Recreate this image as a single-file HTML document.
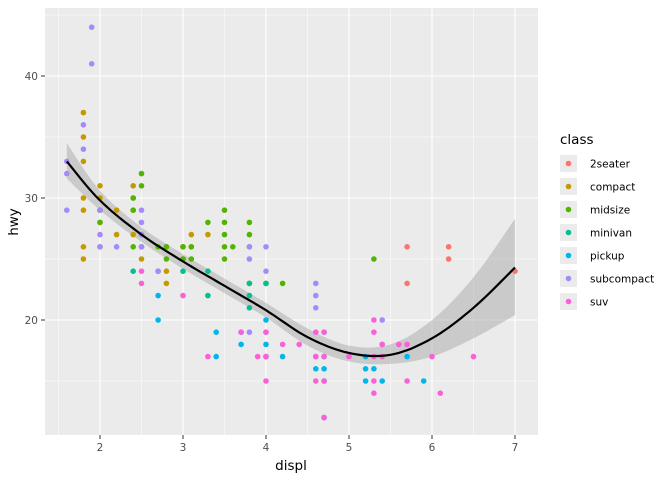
<!DOCTYPE html>
<html><head><meta charset="utf-8"><style>
body{margin:0;background:#fff;}
svg text{font-family:"DejaVu Sans","Liberation Sans",sans-serif;}
</style></head><body>
<svg id="s" width="672" height="480" xmlns="http://www.w3.org/2000/svg">
<rect x="0" y="0" width="672" height="480" fill="#fff"/>
<rect x="45" y="8" width="493" height="427" fill="#EBEBEB"/>
<g id="grid"></g>
<g id="band"></g>
<g id="pts"></g>
<g id="ax" fill="#4D4D4D" font-size="10.5"></g>
<text x="291" y="470" font-size="13.5" text-anchor="middle" fill="#000">displ</text>
<text x="18" y="222" font-size="13.5" text-anchor="middle" fill="#000" transform="rotate(-90 18 222)">hwy</text>
<text x="560" y="144" font-size="13.5" fill="#000">class</text>
<g id="leg"></g>
</svg>
<script>
const X=d=>100+(d-2)*83, Y=h=>320-(h-20)*12.2;
const ns="http://www.w3.org/2000/svg";
function el(p,t,a,txt){const e=document.createElementNS(ns,t);for(const k in a)e.setAttribute(k,a[k]);if(txt)e.textContent=txt;document.getElementById(p).appendChild(e);return e;}
for(let d=1.5;d<=7;d+=1)el("grid","line",{x1:X(d),x2:X(d),y1:8,y2:435,stroke:"#fff","stroke-width":0.5});
for(let h=15;h<=45;h+=10)el("grid","line",{x1:45,x2:538,y1:Y(h),y2:Y(h),stroke:"#fff","stroke-width":0.5});
for(let d=2;d<=7;d++){el("grid","line",{x1:X(d),x2:X(d),y1:8,y2:435,stroke:"#fff","stroke-width":1.1});el("ax","line",{x1:X(d),x2:X(d),y1:435,y2:439,stroke:"#333"});el("ax","text",{x:X(d),y:451,"text-anchor":"middle"},String(d));}
for(let h=20;h<=40;h+=10){el("grid","line",{x1:45,x2:538,y1:Y(h),y2:Y(h),stroke:"#fff","stroke-width":1.1});el("ax","line",{x1:41,x2:45,y1:Y(h),y2:Y(h),stroke:"#333"});el("ax","text",{x:38,y:Y(h)+4,"text-anchor":"end"},String(h));}
const C={"2seater":"#F8766D",compact:"#C49A00",midsize:"#53B400",minivan:"#00C094",pickup:"#00B6EB",subcompact:"#A58AFF",suv:"#FB61D7"};
const D={
"2seater":[[5.7,26],[5.7,23],[6.2,26],[6.2,25],[7.0,24]],
compact:[[1.8,29],[2.0,31],[2.0,30],[2.8,26],[3.1,27],[1.8,26],[1.8,25],[2.0,28],[2.0,29],[2.4,27],[2.4,30],[2.5,25],[2.5,27],[2.2,27],[1.8,37],[1.8,35],[1.8,33],[2.4,31],[2.4,29],[3.0,26],[3.3,27],[2.0,26],[2.7,24],[2.8,23],[1.8,30],[2.2,29],[3.0,25],[3.1,26],[2.8,24]],
midsize:[[2.4,26],[2.4,29],[3.1,26],[3.5,28],[3.6,26],[2.5,32],[2.5,31],[3.3,28],[3.0,25],[3.5,29],[3.8,26],[3.8,27],[2.4,30],[5.3,25],[2.0,28],[2.0,29],[2.8,25],[3.1,25],[4.2,23],[3.8,28],[3.8,23],[4.0,23],[3.5,25],[2.5,26],[3.5,27],[2.7,26],[3.0,26],[2.8,26],[3.5,26]],
minivan:[[2.4,24],[3.0,24],[3.3,22],[3.3,24],[3.8,22],[3.8,21],[4.0,23],[3.8,23]],
pickup:[[2.7,20],[2.7,22],[3.4,19],[3.4,17],[3.7,18],[4.0,20],[4.0,18],[4.2,17],[4.6,17],[4.6,16],[4.7,16],[4.7,15],[4.7,19],[4.7,12],[5.2,16],[5.2,15],[5.2,17],[5.3,16],[5.4,15],[5.7,17],[5.9,15],[4.7,17],[4.0,17],[3.7,19]],
subcompact:[[1.6,33],[1.6,32],[1.6,29],[1.9,44],[1.9,41],[1.8,36],[1.8,34],[2.0,29],[2.0,27],[2.0,26],[2.2,26],[2.5,28],[2.5,29],[2.5,27],[2.5,26],[2.7,24],[3.8,26],[3.8,25],[4.0,26],[4.0,24],[4.6,23],[4.6,22],[4.6,21],[5.4,20],[3.8,19],[4.0,19],[4.6,19],[5.4,18]],
suv:[[2.5,24],[2.5,23],[3.0,22],[3.3,17],[3.7,19],[3.9,17],[4.0,19],[4.0,17],[4.0,15],[4.2,18],[4.4,18],[4.6,19],[4.6,17],[4.6,15],[4.7,19],[4.7,17],[4.7,15],[4.7,12],[5.0,17],[5.3,20],[5.3,19],[5.3,17],[5.3,15],[5.3,14],[5.4,18],[5.4,17],[5.6,18],[5.7,18],[5.7,15],[6.0,17],[6.1,14],[6.5,17]]};
for(const k in D)for(const p of D[k])el("pts","circle",{cx:X(p[0]),cy:Y(p[1]),r:2.8,fill:C[k]});
const m=[[1.6,33],[2,29.8],[2.5,27],[3,24.8],[3.5,22.8],[4,20.8],[4.5,18.6],[5,17.3],[5.5,17.15],[6,18.5],[6.5,21],[7,24.3]];
const up=[[1.6,34.5],[2,30.6],[2.5,27.6],[3,25.4],[3.5,23.4],[4,21.4],[4.5,19.3],[5,17.9],[5.5,18],[6,20],[6.5,23.5],[7,28.3]];
const lo=[[1.6,31.6],[2,29],[2.5,26.4],[3,24.2],[3.5,22.2],[4,20.2],[4.5,17.9],[5,16.6],[5.5,16.4],[6,17],[6.5,18.5],[7,20.4]];
function spline(a){const P=a.map(p=>[X(p[0]),Y(p[1])]);let out=[];for(let i=0;i<P.length-1;i++){const p0=P[Math.max(0,i-1)],p1=P[i],p2=P[i+1],p3=P[Math.min(P.length-1,i+2)];for(let t=0;t<1;t+=0.1){const t2=t*t,t3=t2*t;out.push([0,1].map(j=>0.5*((2*p1[j])+(-p0[j]+p2[j])*t+(2*p0[j]-5*p1[j]+4*p2[j]-p3[j])*t2+(-p0[j]+3*p1[j]-3*p2[j]+p3[j])*t3)));}}out.push(P[P.length-1]);return out;}
const pth=pts=>pts.map((p,i)=>(i?"L":"M")+p[0].toFixed(1)+","+p[1].toFixed(1)).join("");
const U=spline(up),L=spline(lo).reverse();
el("band","path",{d:pth(U)+pth(L).replace("M","L")+"Z",fill:"#999",opacity:0.4});
el("pts","path",{d:pth(spline(m)),fill:"none",stroke:"#000","stroke-width":2.2});
let i=0;for(const k in C){const y=155+i*23;el("leg","rect",{x:560,y:y,width:17,height:17,fill:"#EBEBEB"});el("leg","circle",{cx:568.5,cy:y+8.5,r:2.8,fill:C[k]});el("leg","text",{x:590,y:y+12.5,"font-size":10.5,fill:"#000"},k);i++;}
</script>
</body></html>
